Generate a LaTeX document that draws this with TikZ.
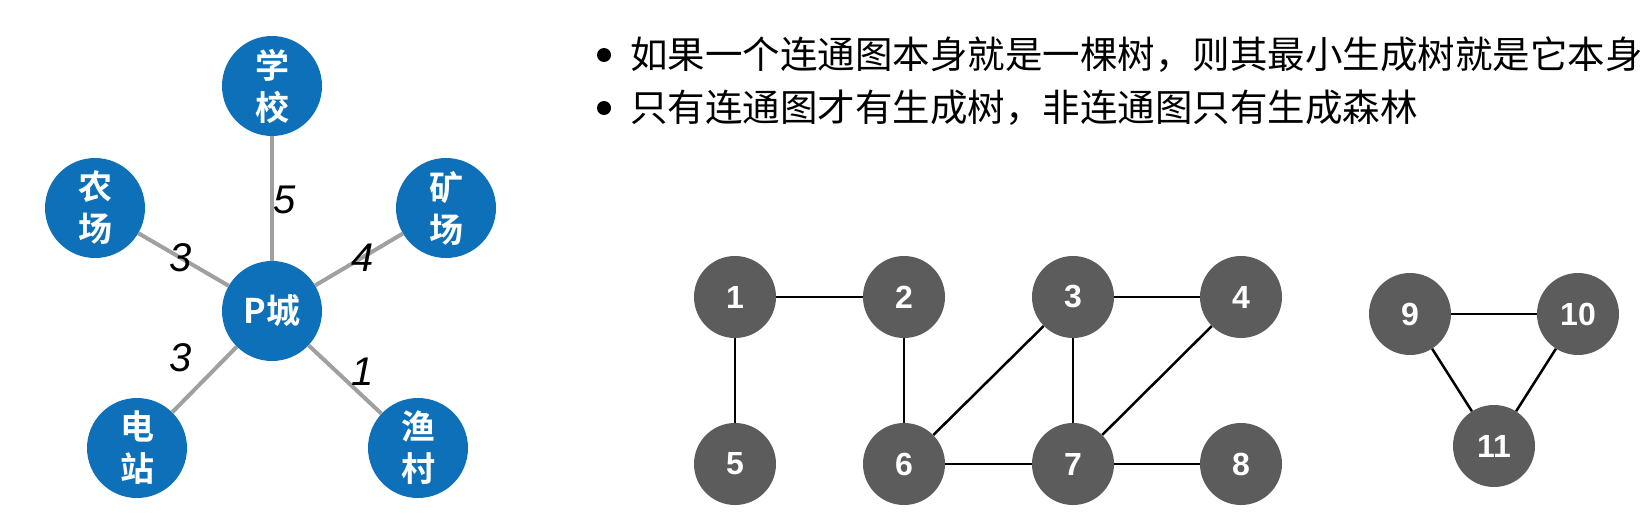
\documentclass[tikz,border=0pt]{standalone}
\usepackage{fontspec}
\usepackage{tikz}
\setmainfont{Liberation Sans}
\newfontfamily\cjk{Noto Sans CJK SC}[BoldFont={Noto Sans CJK SC Bold}]
\definecolor{cityblue}{RGB}{14,112,184}
\definecolor{vertexgray}{RGB}{92,92,92}
\definecolor{roadgray}{RGB}{160,160,160}
\tikzset{
  city/.style={circle, fill=cityblue, minimum size=100pt, inner sep=0pt, text=white,
    font=\cjk\bfseries\fontsize{34}{42}\selectfont, align=center},
  road/.style={draw=roadgray, line width=4pt},
  weight/.style={font=\itshape\fontsize{40}{40}\selectfont, inner sep=1pt},
  vertex/.style={circle, fill=vertexgray, minimum size=82pt, inner sep=0pt, text=white,
    font=\bfseries\fontsize{32}{32}\selectfont},
  link/.style={draw=black, line width=2.5pt},
  dot/.style={circle, fill=black, minimum size=14pt, inner sep=0pt},
  point/.style={font=\cjk\fontsize{37.5}{38}\selectfont, anchor=west, inner sep=0pt}
}

\begin{document}
\begin{tikzpicture}[x=1pt, y=-1pt]
\useasboundingbox (0,0) rectangle (1652,522);

\node[city] (pc) at (272,311) {P城};
\node[city] (xx) at (272,86) {学\\校};
\node[city] (nc) at (95,208) {农\\场};
\node[city] (kc) at (446,208) {矿\\场};
\node[city] (dz) at (137,448) {电\\站};
\node[city] (yc) at (418,448) {渔\\村};

\draw[road] (pc) -- (xx) node[weight, pos=0.49, xshift=13pt] {5};
\draw[road] (pc) -- (nc) node[weight, pos=0.53] {3};
\draw[road] (pc) -- (kc) node[weight, pos=0.54] {4};
\draw[road] (pc) -- (dz) node[weight, pos=0.51, xshift=-23pt, yshift=22pt] {3};
\draw[road] (pc) -- (yc) node[weight, pos=0.57, xshift=13pt, yshift=13pt] {1};

\node[dot] (b1) at (604,55) {};
\node[point] (t1) at (630,55) {如果一个连通图本身就是一棵树，则其最小生成树就是它本身};
\node[dot] (b2) at (604,108) {};
\node[point] (t2) at (630,108) {只有连通图才有生成树，非连通图只有生成森林};

\node[vertex] (v1) at (735,297) {1};
\node[vertex] (v2) at (904,297) {2};
\node[vertex] (v3) at (1073,297) {3};
\node[vertex] (v4) at (1241,297) {4};
\node[vertex] (v5) at (735,464) {5};
\node[vertex] (v6) at (904,464) {6};
\node[vertex] (v7) at (1073,464) {7};
\node[vertex] (v8) at (1241,464) {8};
\node[vertex] (v9) at (1410,314) {9};
\node[vertex] (v10) at (1578,314) {10};
\node[vertex] (v11) at (1494,446) {11};

\draw[link] (v1) -- (v2);
\draw[link] (v1) -- (v5);
\draw[link] (v2) -- (v6);
\draw[link] (v3) -- (v4);
\draw[link] (v3) -- (v6);
\draw[link] (v3) -- (v7);
\draw[link] (v4) -- (v7);
\draw[link] (v6) -- (v7);
\draw[link] (v7) -- (v8);
\draw[link] (v9) -- (v10);
\draw[link] (v9) -- (v11);
\draw[link] (v10) -- (v11);
\end{tikzpicture}
\end{document}
